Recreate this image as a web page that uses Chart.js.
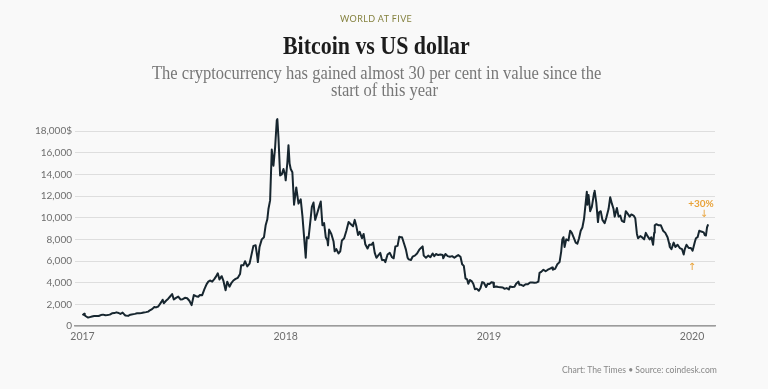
<!DOCTYPE html>
<html>
<head>
<meta charset="utf-8">
<script src="https://cdn.jsdelivr.net/npm/chart.js@4.4.1/dist/chart.umd.min.js"></script>
<style>
  html, body { margin: 0; padding: 0; background: #f9f9f9; }
  #wrap { position: relative; width: 768px; height: 389px; overflow: hidden; background: #f9f9f9; }
  #chartBox { position: absolute; left: 0; top: 0; width: 768px; height: 389px; }
  .t { position: absolute; white-space: nowrap; transform-origin: 0 0; }
  #kicker { font-family: Lato, "Open Sans", sans-serif; font-size: 9.5px; letter-spacing: 0.4px; color: #85823f; line-height: 12px; }
  #title { font-family: "Liberation Serif", "DejaVu Serif", serif; font-weight: bold; font-size: 26px; color: #1c1c1c; line-height: 28px; }
  .sub { font-family: "Liberation Serif", "DejaVu Serif", serif; font-size: 18px; color: #777; line-height: 18px; }
  #footer { font-family: Lato, "Open Sans", sans-serif; font-size: 9px; color: #888; line-height: 12px; }
</style>
</head>
<body>
<div id="wrap">
  <div id="chartBox"><canvas id="c"></canvas></div>
  <div class="t" id="kicker" data-cx="376" data-cy="19" data-w="72">WORLD AT FIVE</div>
  <div class="t" id="title" data-cx="376.5" data-cy="46" data-w="187">Bitcoin vs US dollar</div>
  <div class="t sub" id="sub1" data-cx="376.5" data-cy="73" data-w="449">The cryptocurrency has gained almost 30 per cent in value since the</div>
  <div class="t sub" id="sub2" data-cx="384" data-cy="90" data-same="sub1">start of this year</div>
  <div class="t" id="footer" data-right="717" data-cy="370" data-w="155">Chart: The Times • Source: coindesk.com</div>
</div>
<script>
// ---------- DATA ----------
const dates = [
 "2017-01-01","2017-01-04","2017-01-05","2017-01-07","2017-01-11","2017-01-14","2017-01-18","2017-01-22","2017-01-26","2017-01-30",
 "2017-02-03","2017-02-07","2017-02-11","2017-02-15","2017-02-19","2017-02-23","2017-02-27","2017-03-03","2017-03-07","2017-03-10",
 "2017-03-14","2017-03-17","2017-03-19","2017-03-24","2017-03-28","2017-04-01","2017-04-05","2017-04-09","2017-04-13","2017-04-17",
 "2017-04-21","2017-04-25","2017-04-29","2017-05-02","2017-05-06","2017-05-10","2017-05-13","2017-05-17","2017-05-20","2017-05-23",
 "2017-05-25","2017-05-27","2017-05-31","2017-06-04","2017-06-07","2017-06-11","2017-06-14","2017-06-18","2017-06-22","2017-06-26",
 "2017-06-30","2017-07-04","2017-07-08","2017-07-12","2017-07-16","2017-07-20","2017-07-24","2017-07-28","2017-07-31","2017-08-04",
 "2017-08-08","2017-08-12","2017-08-15","2017-08-18","2017-08-22","2017-08-26","2017-08-29","2017-09-01","2017-09-04","2017-09-08",
 "2017-09-11","2017-09-15","2017-09-18","2017-09-22","2017-09-25","2017-09-29","2017-10-03","2017-10-07","2017-10-11","2017-10-13",
 "2017-10-17","2017-10-20","2017-10-24","2017-10-28","2017-10-31","2017-11-04","2017-11-08","2017-11-11","2017-11-12","2017-11-15",
 "2017-11-19","2017-11-23","2017-11-26","2017-11-29","2017-12-01","2017-12-04","2017-12-07","2017-12-10","2017-12-13","2017-12-16",
 "2017-12-17","2017-12-19","2017-12-22","2017-12-25","2017-12-28","2017-12-31",
 "2018-01-01","2018-01-04","2018-01-06","2018-01-08","2018-01-10","2018-01-13","2018-01-16","2018-01-17","2018-01-20","2018-01-24",
 "2018-01-28","2018-01-31","2018-02-02","2018-02-05","2018-02-06","2018-02-08","2018-02-11","2018-02-15","2018-02-17","2018-02-20",
 "2018-02-23","2018-02-26","2018-03-02","2018-03-05","2018-03-08","2018-03-11","2018-03-14","2018-03-17","2018-03-18","2018-03-20",
 "2018-03-24","2018-03-28","2018-03-30","2018-04-02","2018-04-06","2018-04-09","2018-04-12","2018-04-16","2018-04-20","2018-04-24",
 "2018-04-28","2018-05-02","2018-05-05","2018-05-08","2018-05-11","2018-05-14","2018-05-18","2018-05-21","2018-05-24","2018-05-28",
 "2018-05-31","2018-06-04","2018-06-07","2018-06-10","2018-06-13","2018-06-16","2018-06-20","2018-06-23","2018-06-27","2018-06-29",
 "2018-07-03","2018-07-07","2018-07-11","2018-07-14","2018-07-17","2018-07-21","2018-07-24","2018-07-26","2018-07-29","2018-08-02",
 "2018-08-05","2018-08-08","2018-08-10","2018-08-14","2018-08-17","2018-08-21","2018-08-25","2018-08-29","2018-09-01","2018-09-04",
 "2018-09-06","2018-09-10","2018-09-14","2018-09-18","2018-09-22","2018-09-25","2018-09-28","2018-10-02","2018-10-06","2018-10-10",
 "2018-10-11","2018-10-15","2018-10-19","2018-10-23","2018-10-27","2018-10-31","2018-11-04","2018-11-07","2018-11-11","2018-11-14",
 "2018-11-17","2018-11-19","2018-11-20","2018-11-23","2018-11-25","2018-11-28","2018-12-01","2018-12-04","2018-12-07","2018-12-10",
 "2018-12-14","2018-12-17","2018-12-20","2018-12-23","2018-12-27","2018-12-30",
 "2019-01-02","2019-01-06","2019-01-09","2019-01-10","2019-01-14","2019-01-18","2019-01-22","2019-01-26","2019-01-29","2019-02-02",
 "2019-02-06","2019-02-08","2019-02-12","2019-02-16","2019-02-19","2019-02-23","2019-02-25","2019-02-28","2019-03-04","2019-03-08",
 "2019-03-12","2019-03-16","2019-03-20","2019-03-24","2019-03-28","2019-03-31","2019-04-02","2019-04-05","2019-04-09","2019-04-13",
 "2019-04-17","2019-04-21","2019-04-25","2019-04-26","2019-04-30","2019-05-04","2019-05-08","2019-05-11","2019-05-13","2019-05-15",
 "2019-05-17","2019-05-20","2019-05-24","2019-05-27","2019-05-30","2019-06-03","2019-06-06","2019-06-09","2019-06-12","2019-06-15",
 "2019-06-18","2019-06-21","2019-06-23","2019-06-26","2019-06-27","2019-06-29","2019-07-02","2019-07-05","2019-07-09","2019-07-10",
 "2019-07-13","2019-07-16","2019-07-18","2019-07-21","2019-07-24","2019-07-28","2019-07-31","2019-08-04","2019-08-07","2019-08-10",
 "2019-08-13","2019-08-15","2019-08-19","2019-08-22","2019-08-25","2019-08-28","2019-09-01","2019-09-04","2019-09-07","2019-09-11",
 "2019-09-14","2019-09-18","2019-09-21","2019-09-24","2019-09-26","2019-09-30","2019-10-03","2019-10-07","2019-10-10","2019-10-13",
 "2019-10-17","2019-10-20","2019-10-23","2019-10-25","2019-10-26","2019-10-29","2019-11-02","2019-11-06","2019-11-10","2019-11-14",
 "2019-11-18","2019-11-21","2019-11-22","2019-11-25","2019-11-29","2019-12-02","2019-12-06","2019-12-10","2019-12-14","2019-12-17",
 "2019-12-19","2019-12-22","2019-12-26","2019-12-30",
 "2020-01-02","2020-01-06","2020-01-08","2020-01-11","2020-01-14","2020-01-16","2020-01-19","2020-01-22","2020-01-24","2020-01-26",
 "2020-01-28","2020-01-30"
];
const prices = [
 998,1135,1000,900,780,820,870,920,915,920,
 1010,1050,1000,1010,1050,1175,1190,1260,1200,1110,
 1240,1070,970,935,1045,1080,1120,1180,1170,1200,
 1240,1280,1330,1450,1560,1760,1720,1800,2020,2250,
 2430,2100,2330,2520,2700,2950,2450,2600,2720,2450,
 2480,2600,2560,2330,1930,2860,2750,2700,2870,2850,
 3400,3870,4100,4200,4100,4350,4580,4870,4300,4600,
 4200,3300,4090,3630,3930,4200,4350,4450,4800,5600,
 5600,5980,5500,5750,6450,7400,7450,6350,5900,7300,
 8000,8200,9300,9850,10800,11600,16300,14800,16500,19000,
 19100,17400,13900,14000,14500,13900,
 13450,15100,16700,15000,14500,14200,11200,11200,12800,11300,
 11700,10200,8900,6950,6300,8200,8100,10000,11000,11400,
 9800,10300,11000,11500,9300,9500,8200,7900,7450,8900,
 8500,7800,6900,7100,6700,6900,7900,8100,8800,9600,
 9400,9200,9800,9200,8400,8700,8100,8500,7550,7150,
 7500,7500,7700,6750,6300,6500,6750,6100,6100,5900,
 6600,6750,6350,6250,7350,7400,8250,8200,8200,7550,
 7050,6300,6150,6100,6400,6500,6700,7050,7200,7350,
 6500,6300,6500,6350,6700,6450,6650,6550,6600,6550,
 6250,6650,6450,6400,6450,6300,6450,6550,6400,5700,
 5550,4800,4400,4300,3900,4250,4150,3900,3400,3450,
 3250,3500,4050,4000,3600,3900,
 3880,4050,4000,3600,3650,3600,3580,3560,3430,3500,
 3380,3650,3600,3620,3900,4100,3800,3800,3700,3850,
 3850,4020,4020,3990,4020,4100,4900,5000,5200,5050,
 5200,5300,5400,5200,5280,5700,5900,6900,8000,8200,
 7300,8000,7900,8800,8600,8100,7700,7600,8100,8800,
 9100,9900,10900,12400,11200,12100,10600,11000,12300,12500,
 11400,9600,10500,10600,9800,9500,10000,10800,11900,11300,
 10800,10100,10900,10100,10200,9700,9600,10600,10400,10100,
 10300,10200,9950,8500,8100,8300,8200,8000,8600,8300,
 8000,8200,7500,8600,9300,9400,9300,9300,8800,8600,
 8200,7600,7300,7100,7700,7300,7500,7200,7100,6600,
 7100,7500,7200,7200,
 6950,7750,8100,8200,8800,8750,8700,8650,8400,8350,
 9100,9380
];
const xTickYears = [2017, 2018, 2019, 2020];
const yTickValues = [0, 2000, 4000, 6000, 8000, 10000, 12000, 14000, 16000, 18000];
const xRange = [2016.963, 2020.113];
const yRange = [0, 19300];
// annotation anchors (data units)
const annLabel = { text: "+30%", x: 2020.044, y: 11250 };
const annDown = { text: "↓", x: 2020.059, y: 10280 };
const annUp = { text: "↑", x: 2020.0, y: 5420 };

// ---------- HELPERS ----------
function toYear(s) {
  const [y, m, d] = s.split('-').map(Number);
  const t = Date.UTC(y, m - 1, d), a = Date.UTC(y, 0, 1), b = Date.UTC(y + 1, 0, 1);
  return y + (t - a) / (b - a);
}
const points = dates.map((d, i) => ({ x: toYear(d), y: prices[i] }));

// fit text blocks
const scales = {};
document.querySelectorAll('.t').forEach(el => {
  const w = el.offsetWidth, h = el.offsetHeight;
  let s;
  if (el.dataset.same) s = scales[el.dataset.same];
  else s = parseFloat(el.dataset.w) / w;
  scales[el.id] = s;
  const target = w * s;
  const cy = parseFloat(el.dataset.cy);
  el.style.top = (cy - h / 2) + 'px';
  let left;
  if (el.dataset.right) left = parseFloat(el.dataset.right) - target;
  else left = parseFloat(el.dataset.cx) - target / 2;
  el.style.left = left + 'px';
  el.style.transform = `scaleX(${s})`;
});

const annotationPlugin = {
  id: 'ann',
  afterDatasetsDraw(chart) {
    const { ctx, scales: { x, y } } = chart;
    ctx.save();
    ctx.fillStyle = '#e9a33a';
    ctx.textAlign = 'center';
    ctx.textBaseline = 'middle';
    ctx.font = 'bold 10px Lato, "Open Sans", sans-serif';
    ctx.fillText(annLabel.text, x.getPixelForValue(annLabel.x), y.getPixelForValue(annLabel.y));
    ctx.font = '10px "DejaVu Sans", sans-serif';
    ctx.fillText(annDown.text, x.getPixelForValue(annDown.x), y.getPixelForValue(annDown.y));
    ctx.fillText(annUp.text, x.getPixelForValue(annUp.x), y.getPixelForValue(annUp.y));
    ctx.restore();
  }
};

new Chart(document.getElementById('c'), {
  type: 'line',
  data: {
    datasets: [{
      data: points,
      borderColor: '#17262f',
      borderWidth: 2,
      pointRadius: 0,
      tension: 0,
      borderJoinStyle: 'round',
      fill: false
    }]
  },
  options: {
    responsive: true,
    maintainAspectRatio: false,
    animation: false,
    events: [],
    layout: { padding: { left: 0, right: 53, top: 117, bottom: 0 } },
    plugins: { legend: { display: false }, tooltip: { enabled: false }, title: { display: false } },
    scales: {
      x: {
        type: 'linear',
        min: xRange[0],
        max: xRange[1],
        afterBuildTicks: s => { s.ticks = xTickYears.map(v => ({ value: v })); },
        afterFit: s => { s.height = 63; },
        grid: { display: false, drawTicks: false },
        border: { display: true, color: '#9c9c9c', width: 1.5 },
        ticks: {
          padding: 4,
          maxRotation: 0,
          color: '#6e6e6e',
          font: { family: 'Lato, "Open Sans", sans-serif', size: 10.5 },
          callback: v => String(Math.round(v))
        }
      },
      y: {
        type: 'linear',
        min: yRange[0],
        max: yRange[1],
        afterBuildTicks: s => { s.ticks = yTickValues.map(v => ({ value: v })); },
        afterFit: s => { s.width = 75; },
        grid: { color: '#dedede', lineWidth: 1, drawTicks: false },
        border: { display: false },
        ticks: {
          padding: 3,
          color: '#6e6e6e',
          font: { family: 'Lato, "Open Sans", sans-serif', size: 10 },
          callback: v => v === 18000 ? '18,000$' : v.toLocaleString('en-US')
        }
      }
    }
  },
  plugins: [annotationPlugin]
});
</script>
</body>
</html>
